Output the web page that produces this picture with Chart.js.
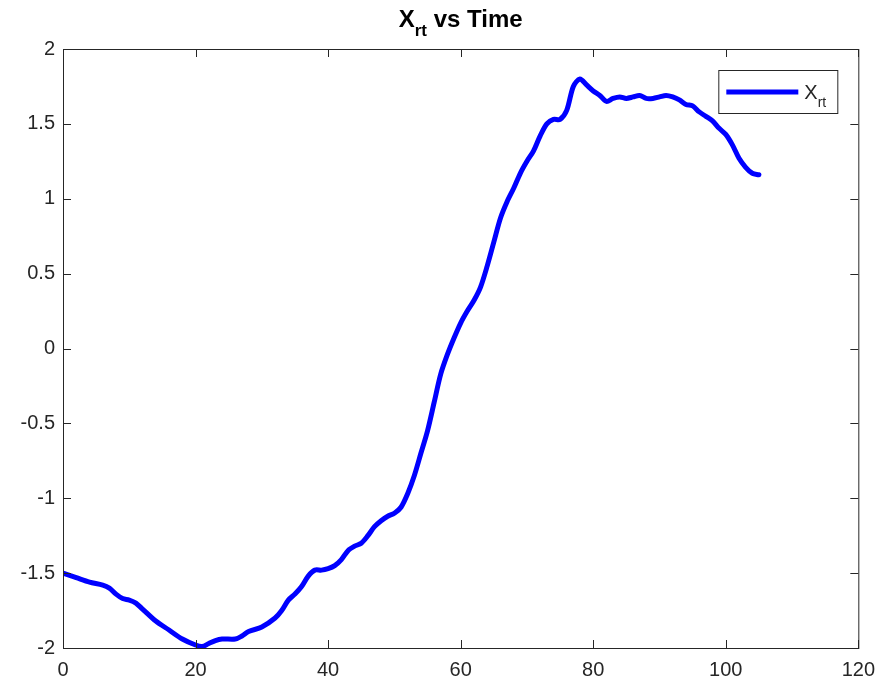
<!DOCTYPE html>
<html>
<head>
<meta charset="utf-8">
<script src="https://cdn.jsdelivr.net/npm/chart.js@4"></script>
<style>
  html, body { margin: 0; padding: 0; background: #fff; }
  #wrap { width: 885px; height: 689px; position: relative; }
</style>
</head>
<body>
<div id="wrap"><canvas id="chartXrt"></canvas></div>
<script>
// ---- data ----
const TIME = [0, 2, 4, 6, 7, 8, 9, 10, 11, 12, 14, 16, 18, 20, 21, 22, 23, 24, 26, 27, 28, 30, 32, 33, 34, 35, 36, 37, 38, 39, 40, 41, 42, 43, 44, 45, 46, 47, 48, 49, 50, 51, 52, 53, 54, 55, 56, 57, 58, 59, 60, 61, 62, 63, 64, 65, 66, 67, 68, 69, 70, 71, 72, 73, 74, 75, 76, 77, 78, 79, 80, 81, 82, 83, 84, 85, 86, 87, 88, 89, 90, 91, 92, 93, 94, 95, 96, 97, 98, 99, 100, 101, 102, 103, 104, 105];
const XRT  = [-1.50, -1.53, -1.56, -1.58, -1.60, -1.64, -1.67, -1.68, -1.70, -1.74, -1.82, -1.88, -1.94, -1.98, -1.99, -1.97, -1.95, -1.94, -1.94, -1.92, -1.89, -1.86, -1.80, -1.75, -1.68, -1.64, -1.59, -1.52, -1.48, -1.48, -1.47, -1.45, -1.41, -1.35, -1.32, -1.30, -1.25, -1.19, -1.15, -1.12, -1.10, -1.06, -0.97, -0.85, -0.70, -0.55, -0.36, -0.17, -0.04, 0.07, 0.17, 0.25, 0.32, 0.41, 0.55, 0.71, 0.87, 0.98, 1.07, 1.17, 1.25, 1.32, 1.42, 1.50, 1.53, 1.53, 1.59, 1.75, 1.80, 1.76, 1.72, 1.69, 1.65, 1.67, 1.68, 1.67, 1.68, 1.69, 1.67, 1.67, 1.68, 1.69, 1.68, 1.66, 1.63, 1.62, 1.58, 1.55, 1.52, 1.47, 1.43, 1.36, 1.27, 1.21, 1.17, 1.16];
const X_TICKS = [0, 20, 40, 60, 80, 100, 120];
const Y_TICKS = [-2, -1.5, -1, -0.5, 0, 0.5, 1, 1.5, 2];

const FONT = '"Liberation Sans", Arial, Helvetica, sans-serif';
const AX = '#262626';   // axes + tick label colour
const BLUE = '#0000ff';

// text with a subscript part: [main, sub, rest]
function drawSubText(ctx, x, y, parts, size, bold, align) {
  const w = bold ? 'bold ' : '';
  const subSize = Math.round(size * 0.72);
  ctx.font = w + size + 'px ' + FONT;
  const w1 = ctx.measureText(parts[0]).width;
  const w3 = ctx.measureText(parts[2]).width;
  ctx.font = w + subSize + 'px ' + FONT;
  const w2 = ctx.measureText(parts[1]).width;
  let x0 = x;
  if (align === 'center') x0 = x - (w1 + w2 + w3) / 2;
  ctx.textAlign = 'left';
  ctx.textBaseline = 'alphabetic';
  ctx.font = w + size + 'px ' + FONT;
  ctx.fillText(parts[0], x0, y);
  ctx.font = w + subSize + 'px ' + FONT;
  ctx.fillText(parts[1], x0 + w1, y + size * 0.38);
  ctx.font = w + size + 'px ' + FONT;
  ctx.fillText(parts[2], x0 + w1 + w2, y);
}

// box around the axes, inward ticks on all four sides, title and legend
const matlabFrame = {
  id: 'matlabFrame',
  afterDraw(chart) {
    const { ctx, chartArea: a, scales } = chart;
    const L = 8;
    ctx.save();
    ctx.strokeStyle = AX;
    ctx.lineWidth = 1;
    ctx.strokeRect(a.left + 0.5, a.top + 0.5, a.right - a.left, a.bottom - a.top);
    ctx.beginPath();
    X_TICKS.forEach(v => {
      const px = Math.round(scales.x.getPixelForValue(v)) + 0.5;
      ctx.moveTo(px, a.bottom); ctx.lineTo(px, a.bottom - L);
      ctx.moveTo(px, a.top);    ctx.lineTo(px, a.top + L);
    });
    Y_TICKS.forEach(v => {
      const py = Math.round(scales.y.getPixelForValue(v)) + 0.5;
      ctx.moveTo(a.left, py);  ctx.lineTo(a.left + L, py);
      ctx.moveTo(a.right, py); ctx.lineTo(a.right - L, py);
    });
    ctx.stroke();

    // title
    ctx.fillStyle = '#000';
    drawSubText(ctx, (a.left + a.right) / 2, 27, ['X', 'rt', ' vs Time'], 24, true, 'center');

    // legend
    const bx = a.right - 140, by = a.top + 21, bw = 119, bh = 43;
    ctx.fillStyle = '#fff';
    ctx.fillRect(bx, by, bw, bh);
    ctx.strokeStyle = AX;
    ctx.strokeRect(bx + 0.5, by + 0.5, bw, bh);
    ctx.strokeStyle = BLUE;
    ctx.lineWidth = 5;
    ctx.beginPath();
    ctx.moveTo(bx + 8, by + 22); ctx.lineTo(bx + 80, by + 22);
    ctx.stroke();
    ctx.fillStyle = AX;
    drawSubText(ctx, bx + 86, by + 29, ['X', 'rt', ''], 20, false, 'left');
    ctx.restore();
  }
};

new Chart(document.getElementById('chartXrt'), {
  type: 'line',
  data: {
    datasets: [{
      label: 'Xrt',
      data: TIME.map((t, i) => ({ x: t, y: XRT[i] })),
      borderColor: BLUE,
      borderWidth: 5,
      pointRadius: 0,
      tension: 0.3,
      borderJoinStyle: 'round',
      borderCapStyle: 'round',
      fill: false
    }]
  },
  options: {
    responsive: true, maintainAspectRatio: false, animation: false,
    layout: { padding: { top: 49, right: 25, left: 0, bottom: 0 } },
    plugins: { legend: { display: false }, title: { display: false }, tooltip: { enabled: false } },
    scales: {
      x: {
        type: 'linear', min: 0, max: 120,
        afterBuildTicks: s => { s.ticks = X_TICKS.map(v => ({ value: v })); },
        afterFit: s => { s.height = 41; },
        grid: { display: false, drawTicks: false },
        border: { display: false },
        ticks: { color: AX, font: { family: FONT, size: 20 }, padding: 10, maxRotation: 0,
                 callback: v => String(v) }
      },
      y: {
        type: 'linear', min: -2, max: 2,
        afterBuildTicks: s => { s.ticks = Y_TICKS.map(v => ({ value: v })); },
        afterFit: s => { s.width = 63; },
        grid: { display: false, drawTicks: false },
        border: { display: false },
        ticks: { color: AX, font: { family: FONT, size: 20 }, padding: 8,
                 callback: v => String(v) }
      }
    }
  },
  plugins: [matlabFrame]
});
</script>
</body>
</html>
